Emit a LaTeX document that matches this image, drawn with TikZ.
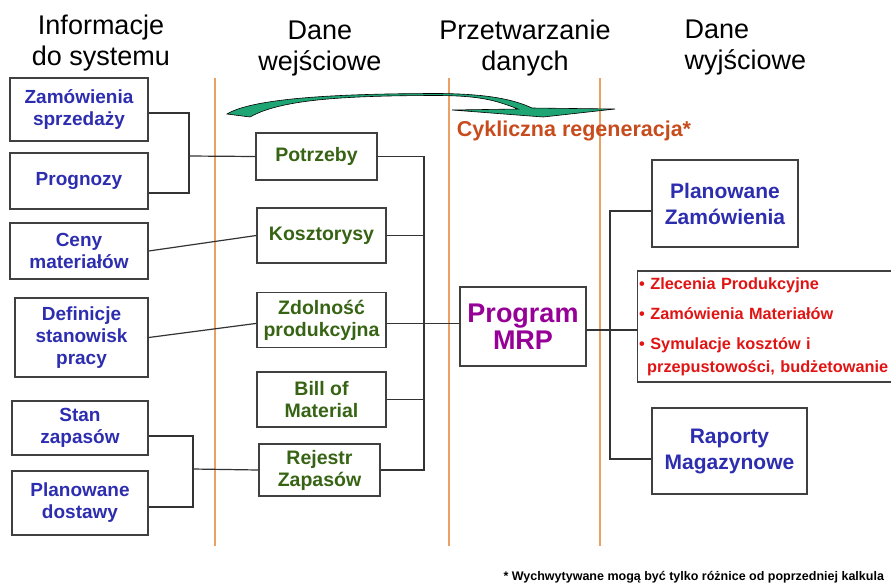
\documentclass[tikz,border=0pt]{standalone}
\usepackage{fontspec}
\setmainfont{Liberation Sans}
\usetikzlibrary{positioning,calc}

\definecolor{inblue}{RGB}{45,45,175}
\definecolor{dgreen}{RGB}{55,100,20}
\definecolor{outred}{RGB}{225,20,20}
\definecolor{mrppurple}{RGB}{150,0,150}
\definecolor{capred}{RGB}{200,75,30}
\definecolor{sepline}{RGB}{235,160,100}
\definecolor{swoosh}{RGB}{30,165,115}

\begin{document}
\begin{tikzpicture}[x=1pt, y=-1pt,
    title/.style={font=\fontsize{27}{31}\selectfont, align=center},
    inbox/.style={rectangle, draw=black!75, line width=1.4pt, text=inblue, font=\fontsize{19}{22}\selectfont\bfseries, align=center},
    databox/.style={rectangle, draw=black!75, line width=1.4pt, text=dgreen, font=\fontsize{19.5}{22}\selectfont\bfseries, align=center},
    mrpbox/.style={rectangle, draw=black!75, line width=1.4pt, text=mrppurple, font=\fontsize{27}{27}\selectfont\bfseries, align=center},
    outbox/.style={rectangle, draw=black!75, line width=1.4pt, text=inblue, font=\fontsize{21}{26}\selectfont\bfseries, align=center},
    listbox/.style={rectangle, draw=black!75, line width=1.4pt, text=outred, font=\fontsize{16.3}{18}\selectfont\bfseries, align=left},
    conn/.style={draw=black!80, line width=1.2pt},
    sep/.style={draw=sepline, line width=1.3pt}
]
    \useasboundingbox (0,0) rectangle (891,582);
    \clip (0,0) rectangle (891,582);

    % column titles
    \node[title] (ttl_in) at (101,43) {Informacje\\do systemu};
    \node[title] (ttl_data) at (320,49) {Dane\\wejściowe};
    \node[title] (ttl_proc) at (525,48) {Przetwarzanie\\danych};
    \node[title, align=left, anchor=west] (ttl_out) at (681,48) {Dane\\wyjściowe};

    \draw[sep] (215,78) -- (215,546);
    \draw[sep] (449,78) -- (449,546);
    \draw[sep] (600,78) -- (600,546);

    % regeneration swoosh
    \filldraw[fill=swoosh, draw=black, line width=0.6pt]
        (227,114) .. controls (250,100) and (320,93.5) .. (440,93.5)
        .. controls (490,94) and (515,100) .. (532,108)
        -- (615,109) -- (543,117) -- (452,110) -- (518,109)
        .. controls (495,100) and (480,96) .. (440,95.5)
        .. controls (340,95.5) and (280,100) .. (250,117) -- cycle;
    \node[font=\fontsize{21.5}{24}\selectfont\bfseries, text=capred] (cycle) at (574,131) {Cykliczna regeneracja*};

    % inputs to the system
    \node[inbox, minimum width=138, minimum height=63] (zam) at (79,109.5) {Zamówienia\\sprzedaży};
    \node[inbox, minimum width=138, minimum height=56] (prog) at (79,181) {Prognozy};
    \node[inbox, minimum width=138, minimum height=56] (ceny) at (79,251) {Ceny\\materiałów};
    \node[inbox, minimum width=133, minimum height=79] (stanow) at (81.5,337.5) {Definicje\\stanowisk\\pracy};
    \node[inbox, minimum width=136, minimum height=54] (stan) at (80,428) {Stan\\zapasów};
    \node[inbox, minimum width=136, minimum height=64] (dostawy) at (80,503) {Planowane\\dostawy};

    % input data
    \node[databox, minimum width=121, minimum height=47] (potrz) at (316.5,156.5) {Potrzeby};
    \node[databox, minimum width=129, minimum height=55] (koszt) at (321.5,235.5) {Kosztorysy};
    \node[databox, minimum width=129, minimum height=55, below=28pt of koszt] (zdoln) {Zdolność\\produkcyjna};
    \node[databox, minimum width=129, minimum height=55, below=23pt of zdoln] (bom) {Bill of\\Material};
    \node[databox, minimum width=121, minimum height=52] (rejestr) at (319.5,470) {Rejestr\\Zapasów};

    % processing
    \node[mrpbox, minimum width=126, minimum height=79] (mrp) at (523,326.5) {Program\\MRP};

    % output data
    \node[outbox, minimum width=146, minimum height=87] (planzam) at (725,203.5) {Planowane\\Zamówienia};
    \node[listbox, anchor=west, text width=270, inner xsep=1.5pt, minimum height=111] (zlec) at (637,326.5)
        {• Zlecenia Produkcyjne\\[12pt]• Zamówienia Materiałów\\[12pt]• Symulacje kosztów i\\[5pt]\hspace*{8pt}przepustowości, budżetowanie};
    \node[outbox, minimum width=155, minimum height=86] (raport) at (729.5,451) {Raporty\\Magazynowe};

    \coordinate (jzam) at (189,156);
    \coordinate (jstan) at (193,469);
    \coordinate (busin) at (424,156);
    \coordinate (busout) at (610,330);

    \draw[conn] ([yshift=-3.5pt]zam.east) -| (jzam) |- ([yshift=-12pt]prog.east);
    \draw[conn] (jzam) -- (potrz.west);
    \draw[conn] (ceny.east) -- (koszt.west);
    \draw[conn] (stanow.east) -- ([yshift=-3.5pt]zdoln.west);
    \draw[conn] ([yshift=-8pt]stan.east) -| (jstan) |- ([yshift=-4pt]dostawy.east);
    \draw[conn] (jstan) -- (rejestr.west);

    \draw[conn] (potrz.east) -| (rejestr.east -| busin) -- (rejestr.east);
    \draw[conn] (koszt.east) -- (koszt.east -| busin);
    \draw[conn] (bom.east) -- (bom.east -| busin);
    \draw[conn] ([yshift=-3.5pt]zdoln.east) -- ([yshift=-3.5pt]zdoln.east -| mrp.west);

    \draw[conn] ([yshift=-3.5pt]mrp.east) -- ([yshift=-3.5pt]zlec.west);
    \draw[conn] ([yshift=-7.5pt]planzam.west) -| (busout) |- ([yshift=-8pt]raport.west);

    \node[font=\fontsize{12.5}{14}\selectfont\bfseries, anchor=west] (note) at (500,577) {* Wychwytywane mogą być tylko różnice od poprzedniej kalkula};
\end{tikzpicture}
\end{document}
